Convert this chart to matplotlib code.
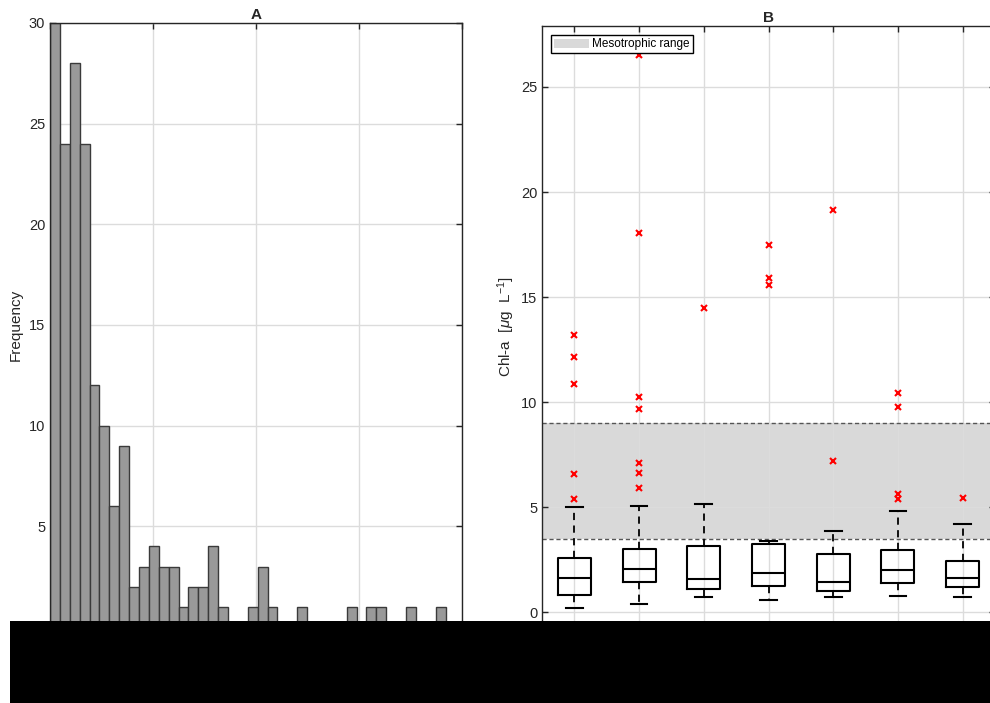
import numpy as np
import matplotlib
matplotlib.use("Agg")
import matplotlib.pyplot as plt
from matplotlib.patches import Rectangle, Patch

plt.rcParams['font.family'] = ['Liberation Sans', 'DejaVu Sans']
plt.rcParams['mathtext.fontset'] = 'custom'
plt.rcParams['mathtext.rm'] = 'Liberation Sans'
plt.rcParams['mathtext.it'] = 'Liberation Sans:italic'

# ---------------- Panel A: histogram ----------------
hist_counts = [30, 24, 28, 24, 12, 10, 6, 9, 2, 3, 4, 3, 3, 1, 2, 2, 4, 1, 0, 0,
               1, 3, 1, 0, 0, 1, 0, 0, 0, 0, 1, 0, 1, 1, 0, 0, 1, 0, 0, 1]
bin_width = 0.96
hist_xlim = [0, 40]
hist_xticks = [0, 10, 20, 30, 40]
hist_yticks = [0, 5, 10, 15, 20, 25, 30]

# ---------------- Panel B: box plots ----------------
groups = [1, 2, 3, 4, 5, 6, 7]
whisk_lo = [0.22, 0.41, 0.75, 0.60, 0.75, 0.78, 0.71]
q1 = [0.84, 1.46, 1.13, 1.27, 1.03, 1.40, 1.21]
med = [1.62, 2.05, 1.59, 1.89, 1.43, 1.99, 1.64]
q3 = [2.60, 3.00, 3.14, 3.24, 2.76, 2.97, 2.45]
whisk_hi = [5.00, 5.05, 5.14, 3.41, 3.89, 4.81, 4.21]
outliers = [
    [13.19, 12.13, 10.84, 6.59, 5.37],
    [26.54, 18.07, 10.26, 9.68, 7.10, 6.62, 5.91],
    [14.49],
    [17.49, 15.92, 15.59],
    [19.14, 7.19],
    [10.43, 9.78, 5.62, 5.40],
    [5.45],
]
meso_range = [3.5, 9.0]
box_yticks = [0, 5, 10, 15, 20, 25]

W, H = 990, 703
fig = plt.figure(figsize=(W / 100, H / 100), dpi=100)

axcol = '#262626'
gridcol = '#dcdcdc'


def style_axes(ax):
    for s in ax.spines.values():
        s.set_color(axcol)
        s.set_linewidth(1.0)
    ax.tick_params(direction='in', length=4, width=1.0, colors=axcol,
                   top=True, right=True, labelsize=10.5, labelcolor='#262626')
    ax.grid(True, color=gridcol, linewidth=1.0)
    ax.set_axisbelow(True)


# Panel A
axA = fig.add_axes([50 / W, (H - 627) / H, 412 / W, (627 - 23) / H])
lefts = np.arange(len(hist_counts)) * bin_width
axA.bar(lefts, hist_counts, width=bin_width, align='edge',
        facecolor='#999999', edgecolor='#3a3a3a', linewidth=1.0, zorder=2)
axA.set_xlim(hist_xlim)
axA.set_ylim(0, 30)
axA.set_xticks(hist_xticks)
axA.set_yticks(hist_yticks)
style_axes(axA)
axA.set_ylabel('Frequency', fontsize=11, color='#262626', labelpad=4)
axA.set_title('A', fontsize=11, fontweight='bold', color='#262626', pad=3)

# Panel B
axB = fig.add_axes([542 / W, (H - 627) / H, 453 / W, (627 - 26) / H])
axB.axhspan(meso_range[0], meso_range[1], color='#d9d9d9', zorder=0.2, lw=0)
for yv in meso_range:
    axB.axhline(yv, color='#555555', linestyle=(0, (3, 2)), linewidth=1.0, zorder=1)

stats = []
for i in range(len(groups)):
    stats.append(dict(whislo=whisk_lo[i], q1=q1[i], med=med[i], q3=q3[i],
                      whishi=whisk_hi[i], fliers=outliers[i]))
axB.bxp(stats, positions=groups, widths=0.51, capwidths=0.26,
        boxprops=dict(color='black', linewidth=1.5),
        medianprops=dict(color='black', linewidth=1.5),
        whiskerprops=dict(color='black', linewidth=1.3, linestyle=(0, (4, 3))),
        capprops=dict(color='black', linewidth=1.5),
        flierprops=dict(marker='x', markeredgecolor='red', markersize=4.5,
                        markeredgewidth=1.5, linestyle='none'),
        manage_ticks=False, zorder=3)
axB.set_xlim(0.5, 7.5)
axB.set_ylim(-0.7, 27.9)
axB.set_xticks(groups)
axB.set_xticklabels([str(g) for g in groups])
axB.set_yticks(box_yticks)
style_axes(axB)
axB.set_ylabel(r'Chl-a  [$\mathit{\mu}$g  L$^{-1}$]', fontsize=11, color='#262626', labelpad=3)
axB.set_title('B', fontsize=11, fontweight='bold', color='#262626', pad=3)
leg = axB.legend(handles=[Patch(facecolor='#d9d9d9', edgecolor='none', label='Mesotrophic range')],
                 loc='upper left', fontsize=8.5, frameon=True, fancybox=False,
                 edgecolor='black', framealpha=1, borderaxespad=0.8,
                 handlelength=2.9, handleheight=0.8, borderpad=0.25, handletextpad=0.3)
leg.get_frame().set_linewidth(1.0)

# black masking rectangle at the bottom
fig.add_artist(Rectangle((10 / W, 0), 980 / W, (H - 620.5) / H,
                         transform=fig.transFigure, facecolor='black',
                         edgecolor='none', zorder=100))

fig.savefig('out.png', dpi=100)
